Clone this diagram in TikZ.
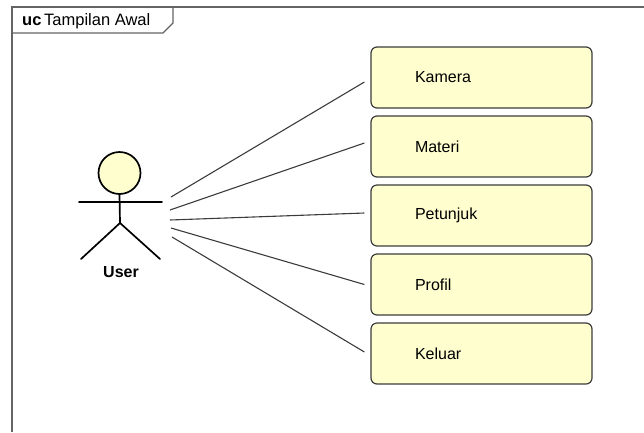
\documentclass[tikz,border=0pt]{standalone}
\usepackage{fontspec}
\setmainfont{Liberation Sans}
\usetikzlibrary{positioning}

\definecolor{ucfill}{RGB}{254,254,206}
\definecolor{ucline}{RGB}{60,60,60}
\definecolor{ucframe}{RGB}{100,100,100}

\tikzset{
  usecase/.style={draw=ucline, line width=1.2pt, fill=ucfill, rounded corners=6pt,
    minimum height=61pt, text width=133pt, inner xsep=44pt, align=left,
    font=\fontsize{16}{19}\selectfont},
  stick/.style={line width=1.7pt, line cap=round},
  assoc/.style={draw=ucline, line width=1.1pt},
  ucframe/.style={draw=ucframe, line width=1.2pt},
}

\begin{document}
\begin{tikzpicture}[x=1pt, y=-1pt]
\useasboundingbox (0,0) rectangle (644,432);

% Frame with name tab
\draw[ucframe] (12,432) -- (12,7) -- (644,7);
\draw[ucframe] (173,7) -- (173,23) -- (163,33) -- (12,33);
\node[anchor=west, inner sep=0, font=\fontsize{16.5}{19}\selectfont] (title) at (22,21)
  {\textbf{uc}\,Tampilan Awal};

% Use cases
\node[usecase] (kamera) at (481.5,77.5) {Kamera};
\node[usecase] (materi) at (481.5,146.5) {Materi};
\node[usecase] (petunjuk) at (481.5,215.5) {Petunjuk};
\node[usecase] (profil) at (481.5,284.5) {Profil};
\node[usecase] (keluar) at (481.5,353.5) {Keluar};

% Actor
\node[circle, draw=black, line width=1.7pt, fill=ucfill, minimum size=42pt, inner sep=0] (head) at (119.5,173) {};
\coordinate (hip) at (120,223);
\draw[stick] (head.south) -- (hip);
\draw[stick] (79,202) -- (162,202);
\draw[stick] (81,259) -- (hip) -- (160,259);
\node[font=\fontsize{16}{19}\selectfont\bfseries] (user) at (121,272) {User};

% Association end points at the actor
\coordinate (a1) at (171,197);
\coordinate (a2) at (170,210);
\coordinate (a3) at (170,220);
\coordinate (a4) at (171,228);
\coordinate (a5) at (172,237);

% Associations
\draw[assoc] (a1) -- ([shift={(-6,4.5)}]kamera.west);
\draw[assoc] (a2) -- ([shift={(-6,-3.5)}]materi.west);
\draw[assoc] (a3) -- ([shift={(-6,-2.5)}]petunjuk.west);
\draw[assoc] (a4) -- ([shift={(-6,0)}]profil.west);
\draw[assoc] (a5) -- ([shift={(-6,-1.5)}]keluar.west);

\end{tikzpicture}
\end{document}
